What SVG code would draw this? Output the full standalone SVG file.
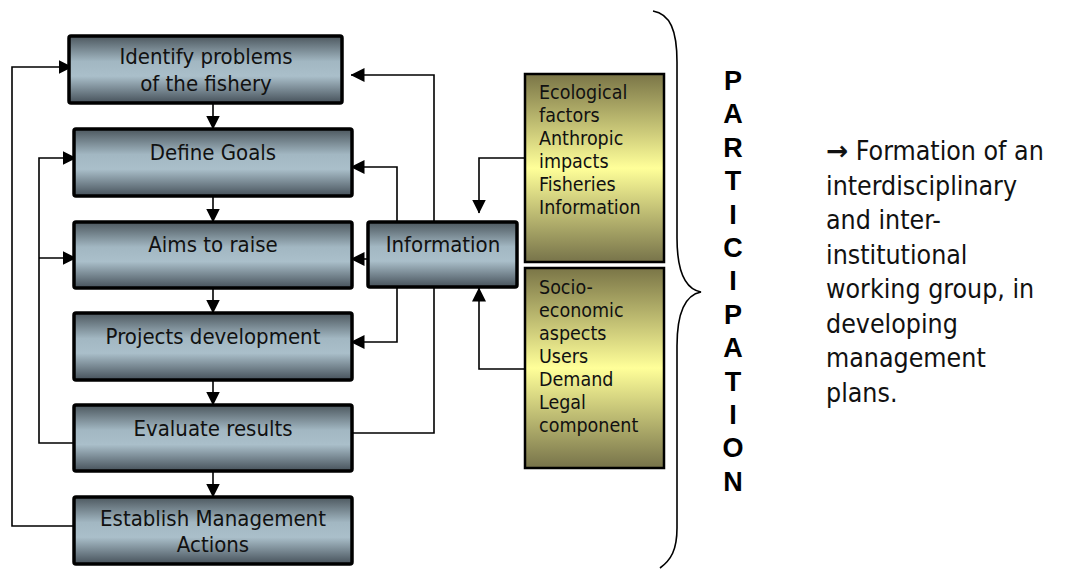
<svg xmlns="http://www.w3.org/2000/svg" width="1086" height="569" viewBox="0 0 1086 569">
<defs>
<linearGradient id="gb" x1="0" y1="0" x2="0" y2="1">
<stop offset="0" stop-color="#4c575e"/>
<stop offset="0.38" stop-color="#a2b7c2"/>
<stop offset="0.6" stop-color="#aabfca"/>
<stop offset="1" stop-color="#46515a"/>
</linearGradient>
<linearGradient id="yb" x1="0" y1="0" x2="0" y2="1">
<stop offset="0" stop-color="#7a7547"/>
<stop offset="0.5" stop-color="#ffff99"/>
<stop offset="1" stop-color="#77734a"/>
</linearGradient>
<marker id="ah" markerUnits="userSpaceOnUse" markerWidth="14" markerHeight="14" refX="13.5" refY="7" orient="auto" viewBox="0 0 14 14">
<path d="M0,0 L14,7 L0,14 z" fill="#000"/>
</marker>
</defs>
<style>
.g{fill:url(#gb);stroke:#000;stroke-width:3.5}
.y{fill:url(#yb);stroke:#000;stroke-width:2.5}
.t{font-family:"DejaVu Sans Condensed","DejaVu Sans",sans-serif;font-stretch:condensed;font-size:22px;fill:#111;text-anchor:middle}
.s{font-family:"DejaVu Sans Condensed","DejaVu Sans",sans-serif;font-stretch:condensed;font-size:19.5px;fill:#111}
.r{font-family:"DejaVu Sans Condensed","DejaVu Sans",sans-serif;font-stretch:condensed;font-size:26.5px;fill:#111}
.ar{font-family:"DejaVu Sans",sans-serif;font-stretch:normal;font-weight:bold}
.p{font-family:"Liberation Sans",Arial,sans-serif;font-weight:bold;font-size:27px;fill:#000;text-anchor:middle}
.c{fill:none;stroke:#000;stroke-width:1.6}
.a{marker-end:url(#ah)}
</style>
<g id="connectors">
<path class="c a" d="M213,103 V129"/>
<path class="c a" d="M213,196 V222"/>
<path class="c a" d="M213,288 V313"/>
<path class="c a" d="M213,380 V405"/>
<path class="c a" d="M213,471 V497"/>
<path class="c a" d="M74,526 H12 V67 H72"/>
<path class="c a" d="M74,443 H39 V158 H76"/>
<path class="c a" d="M39,258 H76"/>
<path class="c a" d="M434,222 V75 H351"/>
<path class="c a" d="M397,222 V167 H351"/>
<path class="c a" d="M368,259 H351"/>
<path class="c a" d="M397,287 V342 H351"/>
<path class="c" d="M434,287 V433 H352"/>
<path class="c a" d="M525,158 H479 V213"/>
<path class="c a" d="M525,369 H479 V288"/>
<path class="c" d="M653,11 C670,14 677,30 677,62 L677,238 C677,272 685,289 701,292 C685,295 677,312 677,346 L677,528 C677,550 671,560 660,568"/>
</g>
<g id="n1"><rect class="g" x="69" y="36" width="273" height="67" rx="2"/><text class="t" x="206" y="64">Identify problems</text><text class="t" x="206" y="91">of the fishery</text></g>
<g id="n2"><rect class="g" x="74" y="129" width="278" height="67" rx="2"/><text class="t" x="213" y="160">Define Goals</text></g>
<g id="n3"><rect class="g" x="74" y="222" width="278" height="66" rx="2"/><text class="t" x="213" y="252">Aims to raise</text></g>
<g id="n4"><rect class="g" x="74" y="313" width="278" height="67" rx="2"/><text class="t" x="213" y="344">Projects development</text></g>
<g id="n5"><rect class="g" x="74" y="405" width="278" height="66" rx="2"/><text class="t" x="213" y="436">Evaluate results</text></g>
<g id="n6"><rect class="g" x="74" y="497" width="278" height="67" rx="2"/><text class="t" x="213" y="526">Establish Management</text><text class="t" x="213" y="552">Actions</text></g>
<g id="info"><rect class="g" x="368" y="222" width="149" height="65" rx="2"/><text class="t" x="443" y="252">Information</text></g>
<g id="eco"><rect class="y" x="525" y="74" width="139" height="188"/>
<text class="s" x="539" y="99">Ecological</text><text class="s" x="539" y="122">factors</text><text class="s" x="539" y="145">Anthropic</text><text class="s" x="539" y="168">impacts</text><text class="s" x="539" y="191">Fisheries</text><text class="s" x="539" y="214">Information</text></g>
<g id="socio"><rect class="y" x="525" y="268" width="139" height="200"/>
<text class="s" x="539" y="294">Socio-</text><text class="s" x="539" y="317">economic</text><text class="s" x="539" y="340">aspects</text><text class="s" x="539" y="363">Users</text><text class="s" x="539" y="386">Demand</text><text class="s" x="539" y="409">Legal</text><text class="s" x="539" y="432">component</text></g>
<g id="participation">
<text class="p" x="733" y="90">P</text><text class="p" x="733" y="123.4">A</text><text class="p" x="733" y="156.8">R</text><text class="p" x="733" y="190.2">T</text><text class="p" x="733" y="223.6">I</text><text class="p" x="733" y="257">C</text><text class="p" x="733" y="290.4">I</text><text class="p" x="733" y="323.8">P</text><text class="p" x="733" y="357.2">A</text><text class="p" x="733" y="390.6">T</text><text class="p" x="733" y="424">I</text><text class="p" x="733" y="457.4">O</text><text class="p" x="733" y="490.8">N</text>
</g>
<g id="note">
<text class="r" x="826" y="160"><tspan class="ar">→</tspan> Formation of an</text>
<text class="r" x="826" y="194.5">interdisciplinary</text>
<text class="r" x="826" y="229">and inter-</text>
<text class="r" x="826" y="263.5">institutional</text>
<text class="r" x="826" y="298">working group, in</text>
<text class="r" x="826" y="332.5">developing</text>
<text class="r" x="826" y="367">management</text>
<text class="r" x="826" y="401.5">plans.</text>
</g>
</svg>
